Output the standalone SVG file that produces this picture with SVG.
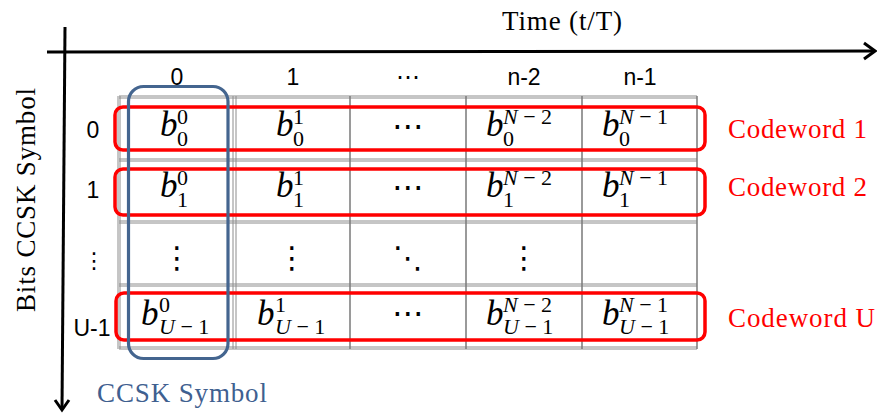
<svg xmlns="http://www.w3.org/2000/svg" width="877" height="415" viewBox="0 0 877 415">
<style>
.ser{font-family:"Liberation Serif","Times New Roman",serif;font-size:27px}
.san{font-family:"Liberation Sans",Arial,sans-serif;font-size:23px;fill:#000}
.b{font-family:"Liberation Serif","Times New Roman",serif;font-size:35px;font-style:italic;fill:#000}
.s{font-size:22px;font-style:normal}
.i{font-style:italic}
.dot{font-family:"DejaVu Sans",sans-serif;fill:#000}
.grid{stroke:#8c8c8c;stroke-width:1;fill:none}
.gridv{stroke:#7a7a7a;stroke-width:1.5;fill:none}
.cw{fill:none;stroke:#ff0000;stroke-width:3.5}
.sym{fill:none;stroke:#44658f;stroke-width:3.2}
.axis{fill:none;stroke:#000;stroke-width:3;stroke-linecap:butt}
</style>
<g id="axes" class="connectors">
<path class="axis" d="M47 52 L874 51"/>
<path class="axis" d="M864 43 L875 51 L864 59"/>
<path class="axis" d="M65 27 L62 409"/>
<path class="axis" d="M55 400 L62 410 L69 400"/>
</g>
<g id="grid">
<path class="grid" d="M119 96 H697 M119 98 H697 M119 159 H697 M119 161 H697 M119 221 H697 M119 223 H697 M119 284 H697 M119 286 H697 M119 347 H697 M119 349 H697"/>
<path class="grid" d="M118 96 V349 M120 96 V349 M233 96 V349 M236 96 V349"/>
<path class="gridv" d="M350 96 V349 M466 96 V349 M582 96 V349 M697 96 V349"/>
</g>
<g id="labels">
<text class="ser" x="562" y="30" text-anchor="middle" textLength="120">Time (t/T)</text>
<text class="ser" transform="translate(35 200) rotate(-90)" text-anchor="middle" textLength="224">Bits CCSK Symbol</text>
<text class="ser" x="97" y="402" fill="#3f6090" textLength="170">CCSK Symbol</text>
<text class="san" x="177" y="85" text-anchor="middle">0</text>
<text class="san" x="293" y="85" text-anchor="middle">1</text>
<text class="dot" x="408" y="85" text-anchor="middle" font-size="24">⋯</text>
<text class="san" x="524" y="85" text-anchor="middle">n-2</text>
<text class="san" x="640" y="85" text-anchor="middle">n-1</text>
<text class="san" x="93" y="138" text-anchor="middle">0</text>
<text class="san" x="93" y="198" text-anchor="middle">1</text>
<text class="dot" x="94" y="268" text-anchor="middle" font-size="22">⋮</text>
<text class="san" x="92" y="336" text-anchor="middle">U-1</text>
</g>
<g id="cells">
<g id="r0">
<text class="b" x="160" y="136">b<tspan class="s" x="177" y="124">0</tspan><tspan class="s" x="177" y="146">0</tspan></text>
<text class="b" x="276" y="136">b<tspan class="s" x="293" y="124">1</tspan><tspan class="s" x="293" y="146">0</tspan></text>
<text class="dot" x="408" y="137" text-anchor="middle" font-size="32">⋯</text>
<text class="b" x="486" y="136">b<tspan class="s" x="503" y="124"><tspan class="i">N</tspan> − 2</tspan><tspan class="s" x="503" y="146">0</tspan></text>
<text class="b" x="602" y="136">b<tspan class="s" x="619" y="124"><tspan class="i">N</tspan> − 1</tspan><tspan class="s" x="619" y="146">0</tspan></text>
</g>
<g id="r1">
<text class="b" x="160" y="197">b<tspan class="s" x="177" y="185">0</tspan><tspan class="s" x="177" y="207">1</tspan></text>
<text class="b" x="276" y="197">b<tspan class="s" x="293" y="185">1</tspan><tspan class="s" x="293" y="207">1</tspan></text>
<text class="dot" x="408" y="198" text-anchor="middle" font-size="32">⋯</text>
<text class="b" x="486" y="197">b<tspan class="s" x="503" y="185"><tspan class="i">N</tspan> − 2</tspan><tspan class="s" x="503" y="207">1</tspan></text>
<text class="b" x="602" y="197">b<tspan class="s" x="619" y="185"><tspan class="i">N</tspan> − 1</tspan><tspan class="s" x="619" y="207">1</tspan></text>
</g>
<g id="r2">
<text class="dot" x="177" y="268" text-anchor="middle" font-size="30">⋮</text>
<text class="dot" x="292" y="268" text-anchor="middle" font-size="30">⋮</text>
<text class="dot" x="408" y="268" text-anchor="middle" font-size="30">⋱</text>
<text class="dot" x="524" y="268" text-anchor="middle" font-size="30">⋮</text>
</g>
<g id="r3">
<text class="b" x="141" y="325">b<tspan class="s" x="159" y="312">0</tspan><tspan class="s" x="159" y="334"><tspan class="i">U</tspan> − 1</tspan></text>
<text class="b" x="257" y="325">b<tspan class="s" x="275" y="312">1</tspan><tspan class="s" x="275" y="334"><tspan class="i">U</tspan> − 1</tspan></text>
<text class="dot" x="408" y="324" text-anchor="middle" font-size="32">⋯</text>
<text class="b" x="486" y="325">b<tspan class="s" x="503" y="312"><tspan class="i">N</tspan> − 2</tspan><tspan class="s" x="503" y="334"><tspan class="i">U</tspan> − 1</tspan></text>
<text class="b" x="602" y="325">b<tspan class="s" x="619" y="312"><tspan class="i">N</tspan> − 1</tspan><tspan class="s" x="619" y="334"><tspan class="i">U</tspan> − 1</tspan></text>
</g>
</g>
<g id="codeword1"><rect class="cw" x="115" y="107" width="590" height="43" rx="8"/><text class="ser" x="728" y="138" fill="#ff0000" textLength="139">Codeword 1</text></g>
<g id="codeword2"><rect class="cw" x="115" y="169" width="590" height="46" rx="8"/><text class="ser" x="728" y="196" fill="#ff0000" textLength="139">Codeword 2</text></g>
<g id="codewordU"><rect class="cw" x="116" y="293" width="589" height="47" rx="8"/><text class="ser" x="728" y="327" fill="#ff0000" textLength="147">Codeword U</text></g>
<g id="ccsk-symbol"><rect class="sym" x="128.5" y="86.5" width="99.5" height="272" rx="15"/></g>
</svg>
